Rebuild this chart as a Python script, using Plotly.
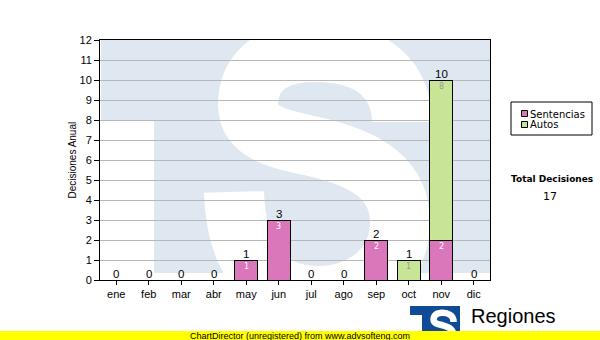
import base64
import plotly.graph_objects as go

# ---------------- data ----------------
months = ["ene", "feb", "mar", "abr", "may", "jun", "jul", "ago", "sep", "oct", "nov", "dic"]
sentencias = [0, 0, 0, 0, 1, 3, 0, 0, 2, 0, 2, 0]
autos = [0, 0, 0, 0, 0, 0, 0, 0, 0, 1, 8, 0]
series_names = ["Sentencias", "Autos"]
series_colors = ["#da76ba", "#c8e496"]
inner_label_colors = ["#ffffff", "#9a9a9a"]
y_ticks = list(range(0, 13))
y_title = "Decisiones Anual"
total_title = "Total Decisiones"
footer_text = "ChartDirector (unregistered) from www.advsofteng.com"
brand_text = "Regiones"

series_values = [sentencias, autos]
totals = [a + b for a, b in zip(sentencias, autos)]
grand_total = sum(totals)

# ---------------- pixel helpers (plot area) ----------------
L, R, T, B = 100, 490, 40, 280


def px(X):
    return (X - L) / (R - L)


def py(Y):
    return (B - Y) / (B - T)


FONT = "Liberation Sans, Arial, sans-serif"
FONT2 = "DejaVu Sans, Verdana, sans-serif"

# ---------------- watermark (logo drawn as svg image) ----------------
S_PATH = ("M402,122 C402,70 360,52 315,52 C268,52 248,75 248,105 "
          "C248,135 285,140 320,148 C368,160 400,180 400,222 "
          "C400,268 362,296 318,296 C268,296 236,262 234,192")


def svg_uri(svg):
    return "data:image/svg+xml;base64," + base64.b64encode(svg.encode("utf-8")).decode("ascii")


wm_svg = (
    '<svg xmlns="http://www.w3.org/2000/svg" width="390" height="240" viewBox="0 0 390 240">'
    '<path d="M1,0 H390 V233 H54 V80 H1 Z" fill="#dfe8f1"/>'
    '<g transform="translate(-100,-40)">'
    '<path d="' + S_PATH + '" fill="none" stroke="#ffffff" stroke-width="60" stroke-linecap="butt"/>'
    '</g></svg>'
)

s = 0.13
logo_svg = (
    '<svg xmlns="http://www.w3.org/2000/svg" width="50" height="34" viewBox="0 0 50 34">'
    '<path d="M0,0 H50 V34 H12 V9 H0 Z" fill="#104c96"/>'
    '<g transform="translate(%.2f,%.2f) scale(%.3f)">' % (18 - 205 * s, 5 - 38 * s, s) +
    '<path d="' + S_PATH + '" fill="none" stroke="#ffffff" stroke-width="50" stroke-linecap="butt"/>'
    '</g></svg>'
)

fig = go.Figure()

for name, vals, col in zip(series_names, series_values, series_colors):
    fig.add_trace(go.Bar(
        x=months, y=vals, name=name,
        marker=dict(color=col, line=dict(color="#000000", width=1)),
        hoverinfo="skip",
    ))

annotations = []
# totals above stacks
for m, t in zip(months, totals):
    annotations.append(dict(
        x=m, y=t, xref="x", yref="y", text=str(t), showarrow=False,
        yanchor="bottom", yshift=-2, font=dict(family=FONT, size=11.5, color="#000000"),
    ))
# values inside segments
base = [0] * len(months)
for vals, lc in zip(series_values, inner_label_colors):
    for i, v in enumerate(vals):
        if v > 0:
            annotations.append(dict(
                x=months[i], y=base[i] + v, xref="x", yref="y", text=str(v), showarrow=False,
                yanchor="middle", yshift=-6, font=dict(family=FONT2, size=8, color=lc),
            ))
        base[i] += v

# y axis title
annotations.append(dict(
    x=px(72), y=py(160.5), xref="paper", yref="paper", text=y_title, showarrow=False,
    textangle=-90, xanchor="center", yanchor="middle",
    font=dict(family=FONT, size=10, color="#000000"),
))

# manual legend
shapes = [dict(type="rect", xref="paper", yref="paper", x0=px(511), x1=px(592), y0=py(135), y1=py(102),
               line=dict(color="#000000", width=1), fillcolor="#ffffff", layer="above")]
for k, (name, col) in enumerate(zip(series_names, series_colors)):
    yc = 113.5 + 11 * k
    shapes.append(dict(type="rect", xref="paper", yref="paper", x0=px(521.5), x1=px(527.5),
                       y0=py(yc + 3), y1=py(yc - 3), line=dict(color="#000000", width=1),
                       fillcolor=col, layer="above"))
    annotations.append(dict(
        x=px(528), y=py(yc + 0.5), xref="paper", yref="paper", text=name, showarrow=False,
        xanchor="left", yanchor="middle", font=dict(family=FONT2, size=10, color="#000000"),
    ))

# total box
annotations.append(dict(
    x=px(551.5), y=py(178.5), xref="paper", yref="paper", text="<b>" + total_title + "</b>",
    showarrow=False, xanchor="center", yanchor="middle",
    font=dict(family=FONT2, size=9, color="#000000"),
))
annotations.append(dict(
    x=px(549.5), y=py(196), xref="paper", yref="paper", text=str(grand_total),
    showarrow=False, xanchor="center", yanchor="middle",
    font=dict(family=FONT2, size=11, color="#000000"),
))

# brand text
annotations.append(dict(
    x=px(469), y=py(316), xref="paper", yref="paper", text=brand_text, showarrow=False,
    xanchor="left", yanchor="middle", font=dict(family=FONT, size=20, color="#000000"),
))

# footer bar
shapes.append(dict(type="rect", xref="paper", yref="paper", x0=px(0), x1=px(600),
                   y0=py(341), y1=py(331), line=dict(width=0), fillcolor="#ffff00", layer="above"))
annotations.append(dict(
    x=px(300), y=py(335.5), xref="paper", yref="paper", text=footer_text, showarrow=False,
    xanchor="center", yanchor="middle", font=dict(family=FONT, size=9, color="#000000"),
))

images = [
    dict(source=svg_uri(wm_svg), xref="paper", yref="paper", x=0, y=1, sizex=1, sizey=1,
         xanchor="left", yanchor="top", sizing="stretch", layer="below"),
    dict(source=svg_uri(logo_svg), xref="paper", yref="paper", x=px(410), y=py(306),
         sizex=px(460) - px(410), sizey=py(306) - py(340),
         xanchor="left", yanchor="top", sizing="stretch", layer="above"),
]

fig.update_layout(
    width=600, height=340,
    margin=dict(l=L, r=600 - R, t=T, b=340 - B, pad=0),
    paper_bgcolor="#ffffff", plot_bgcolor="#ffffff",
    barmode="stack", bargap=0.3,
    showlegend=False,
    font=dict(family=FONT, size=11, color="#000000"),
    annotations=annotations, shapes=shapes, images=images,
    xaxis=dict(
        type="category", range=[-0.5, len(months) - 0.5], showline=True, linecolor="#000000",
        linewidth=1, mirror=True, ticks="outside", ticklen=4, tickcolor="#000000",
        showgrid=False, zeroline=False, tickfont=dict(family=FONT, size=11, color="#000000"),
        fixedrange=True,
    ),
    yaxis=dict(
        range=[0, 12], tickvals=y_ticks, showline=True, linecolor="#000000", linewidth=1,
        mirror=True, ticks="outside", ticklen=5, tickcolor="#000000",
        showgrid=True, gridcolor="#b8b8b8", gridwidth=1, zeroline=False,
        tickfont=dict(family=FONT, size=11, color="#000000"), fixedrange=True,
    ),
    hovermode=False,
)

fig.write_html("out.html", config={"displayModeBar": False})
